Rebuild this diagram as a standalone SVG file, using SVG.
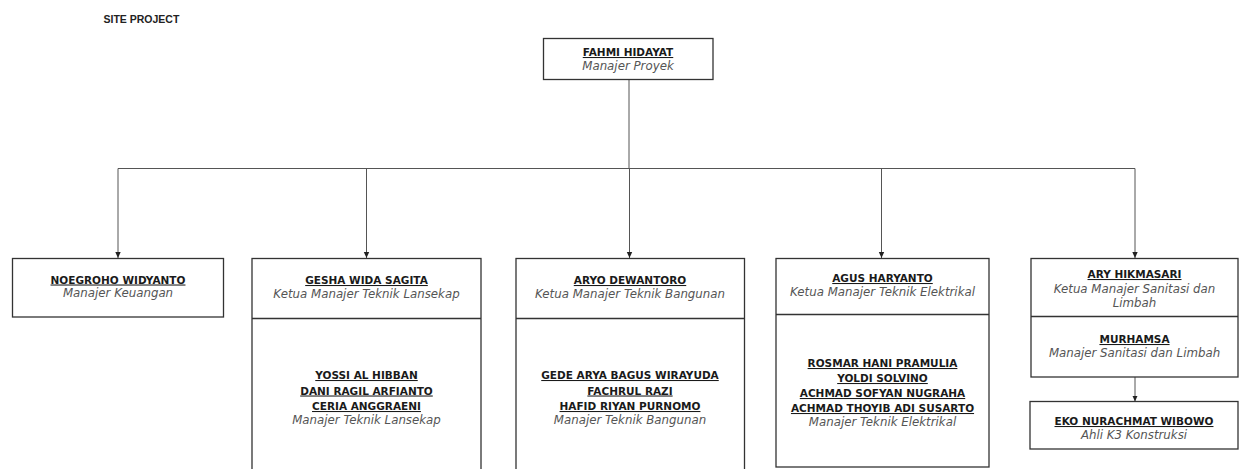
<svg xmlns="http://www.w3.org/2000/svg" width="1241" height="469" viewBox="0 0 1241 469">
<defs>
<style>
.box{fill:#fff;stroke:#333;stroke-width:1.3}
.dv{stroke:#333;stroke-width:1.3;fill:none}
.name{font-family:"DejaVu Sans",sans-serif;font-weight:bold;font-size:10.5px;fill:#1a1a1a;text-anchor:middle;text-decoration:underline}
.role{font-family:"DejaVu Sans",sans-serif;font-style:italic;font-size:11.8px;fill:#555;text-anchor:middle}
.conn{stroke:#555;stroke-width:1;fill:none}
.title{font-family:"Liberation Sans",Arial,sans-serif;font-weight:bold;font-size:10.5px;fill:#222}
</style>
<marker id="arr" markerUnits="userSpaceOnUse" markerWidth="8" markerHeight="8" refX="6" refY="3.5" orient="auto">
<path d="M0,0.8 L6,3.5 L0,6.2 Z" fill="#222"/>
</marker>
</defs>
<rect width="1241" height="469" fill="#fff"/>
<text class="title" x="103.5" y="22.5">SITE PROJECT</text>

<g id="connectors">
<line class="conn" x1="629" y1="79.5" x2="629" y2="168.5"/>
<line class="conn" x1="118" y1="168.5" x2="1135" y2="168.5"/>
<line class="conn" x1="118" y1="168.5" x2="118" y2="258" marker-end="url(#arr)"/>
<line class="conn" x1="366.5" y1="168.5" x2="366.5" y2="258" marker-end="url(#arr)"/>
<line class="conn" x1="629.5" y1="168.5" x2="629.5" y2="258" marker-end="url(#arr)"/>
<line class="conn" x1="881.5" y1="168.5" x2="881.5" y2="258" marker-end="url(#arr)"/>
<line class="conn" x1="1135" y1="168.5" x2="1135" y2="258" marker-end="url(#arr)"/>
<line class="conn" x1="1135" y1="377" x2="1135" y2="401.5" marker-end="url(#arr)"/>
</g>

<g id="node-fahmi">
<rect class="box" x="543.5" y="38.5" width="169.5" height="41"/>
<text class="name" x="628" y="56">FAHMI HIDAYAT</text>
<text class="role" x="628" y="69.5">Manajer Proyek</text>
</g>

<g id="node-noegroho">
<rect class="box" x="12.5" y="258.5" width="211" height="58.5"/>
<text class="name" x="118" y="283.5">NOEGROHO WIDYANTO</text>
<text class="role" x="118" y="297">Manajer Keuangan</text>
</g>

<g id="node-gesha">
<rect class="box" x="252" y="258.5" width="229" height="230"/>
<line class="dv" x1="252" y1="318.5" x2="481" y2="318.5"/>
<text class="name" x="366.5" y="284">GESHA WIDA SAGITA</text>
<text class="role" x="366.5" y="298">Ketua Manajer Teknik Lansekap</text>
<text class="name" x="366.5" y="379">YOSSI AL HIBBAN</text>
<text class="name" x="366.5" y="394.5">DANI RAGIL ARFIANTO</text>
<text class="name" x="366.5" y="410">CERIA ANGGRAENI</text>
<text class="role" x="366.5" y="424">Manajer Teknik Lansekap</text>
</g>

<g id="node-aryo">
<rect class="box" x="516" y="258.5" width="228.5" height="230"/>
<line class="dv" x1="516" y1="318.5" x2="744.5" y2="318.5"/>
<text class="name" x="630" y="284">ARYO DEWANTORO</text>
<text class="role" x="630" y="298">Ketua Manajer Teknik Bangunan</text>
<text class="name" x="630" y="379">GEDE ARYA BAGUS WIRAYUDA</text>
<text class="name" x="630" y="394.5">FACHRUL RAZI</text>
<text class="name" x="630" y="410">HAFID RIYAN PURNOMO</text>
<text class="role" x="630" y="424">Manajer Teknik Bangunan</text>
</g>

<g id="node-agus">
<rect class="box" x="776" y="258.5" width="213" height="208.5"/>
<line class="dv" x1="776" y1="314.5" x2="989" y2="314.5"/>
<text class="name" x="882.5" y="282">AGUS HARYANTO</text>
<text class="role" x="882.5" y="295.5">Ketua Manajer Teknik Elektrikal</text>
<text class="name" x="882.5" y="367">ROSMAR HANI PRAMULIA</text>
<text class="name" x="882.5" y="382">YOLDI SOLVINO</text>
<text class="name" x="882.5" y="397">ACHMAD SOFYAN NUGRAHA</text>
<text class="name" x="882.5" y="412">ACHMAD THOYIB ADI SUSARTO</text>
<text class="role" x="882.5" y="425.5">Manajer Teknik Elektrikal</text>
</g>

<g id="node-ary">
<rect class="box" x="1031" y="258.5" width="207" height="118.5"/>
<line class="dv" x1="1031" y1="316.5" x2="1238" y2="316.5"/>
<text class="name" x="1134.5" y="278">ARY HIKMASARI</text>
<text class="role" x="1134.5" y="292.5">Ketua Manajer Sanitasi dan</text>
<text class="role" x="1134.5" y="307">Limbah</text>
<text class="name" x="1134.5" y="343">MURHAMSA</text>
<text class="role" x="1134.5" y="356.5">Manajer Sanitasi dan Limbah</text>
</g>

<g id="node-eko">
<rect class="box" x="1030" y="401.5" width="208" height="47.5"/>
<text class="name" x="1134" y="425">EKO NURACHMAT WIBOWO</text>
<text class="role" x="1134" y="438.5">Ahli K3 Konstruksi</text>
</g>
</svg>
